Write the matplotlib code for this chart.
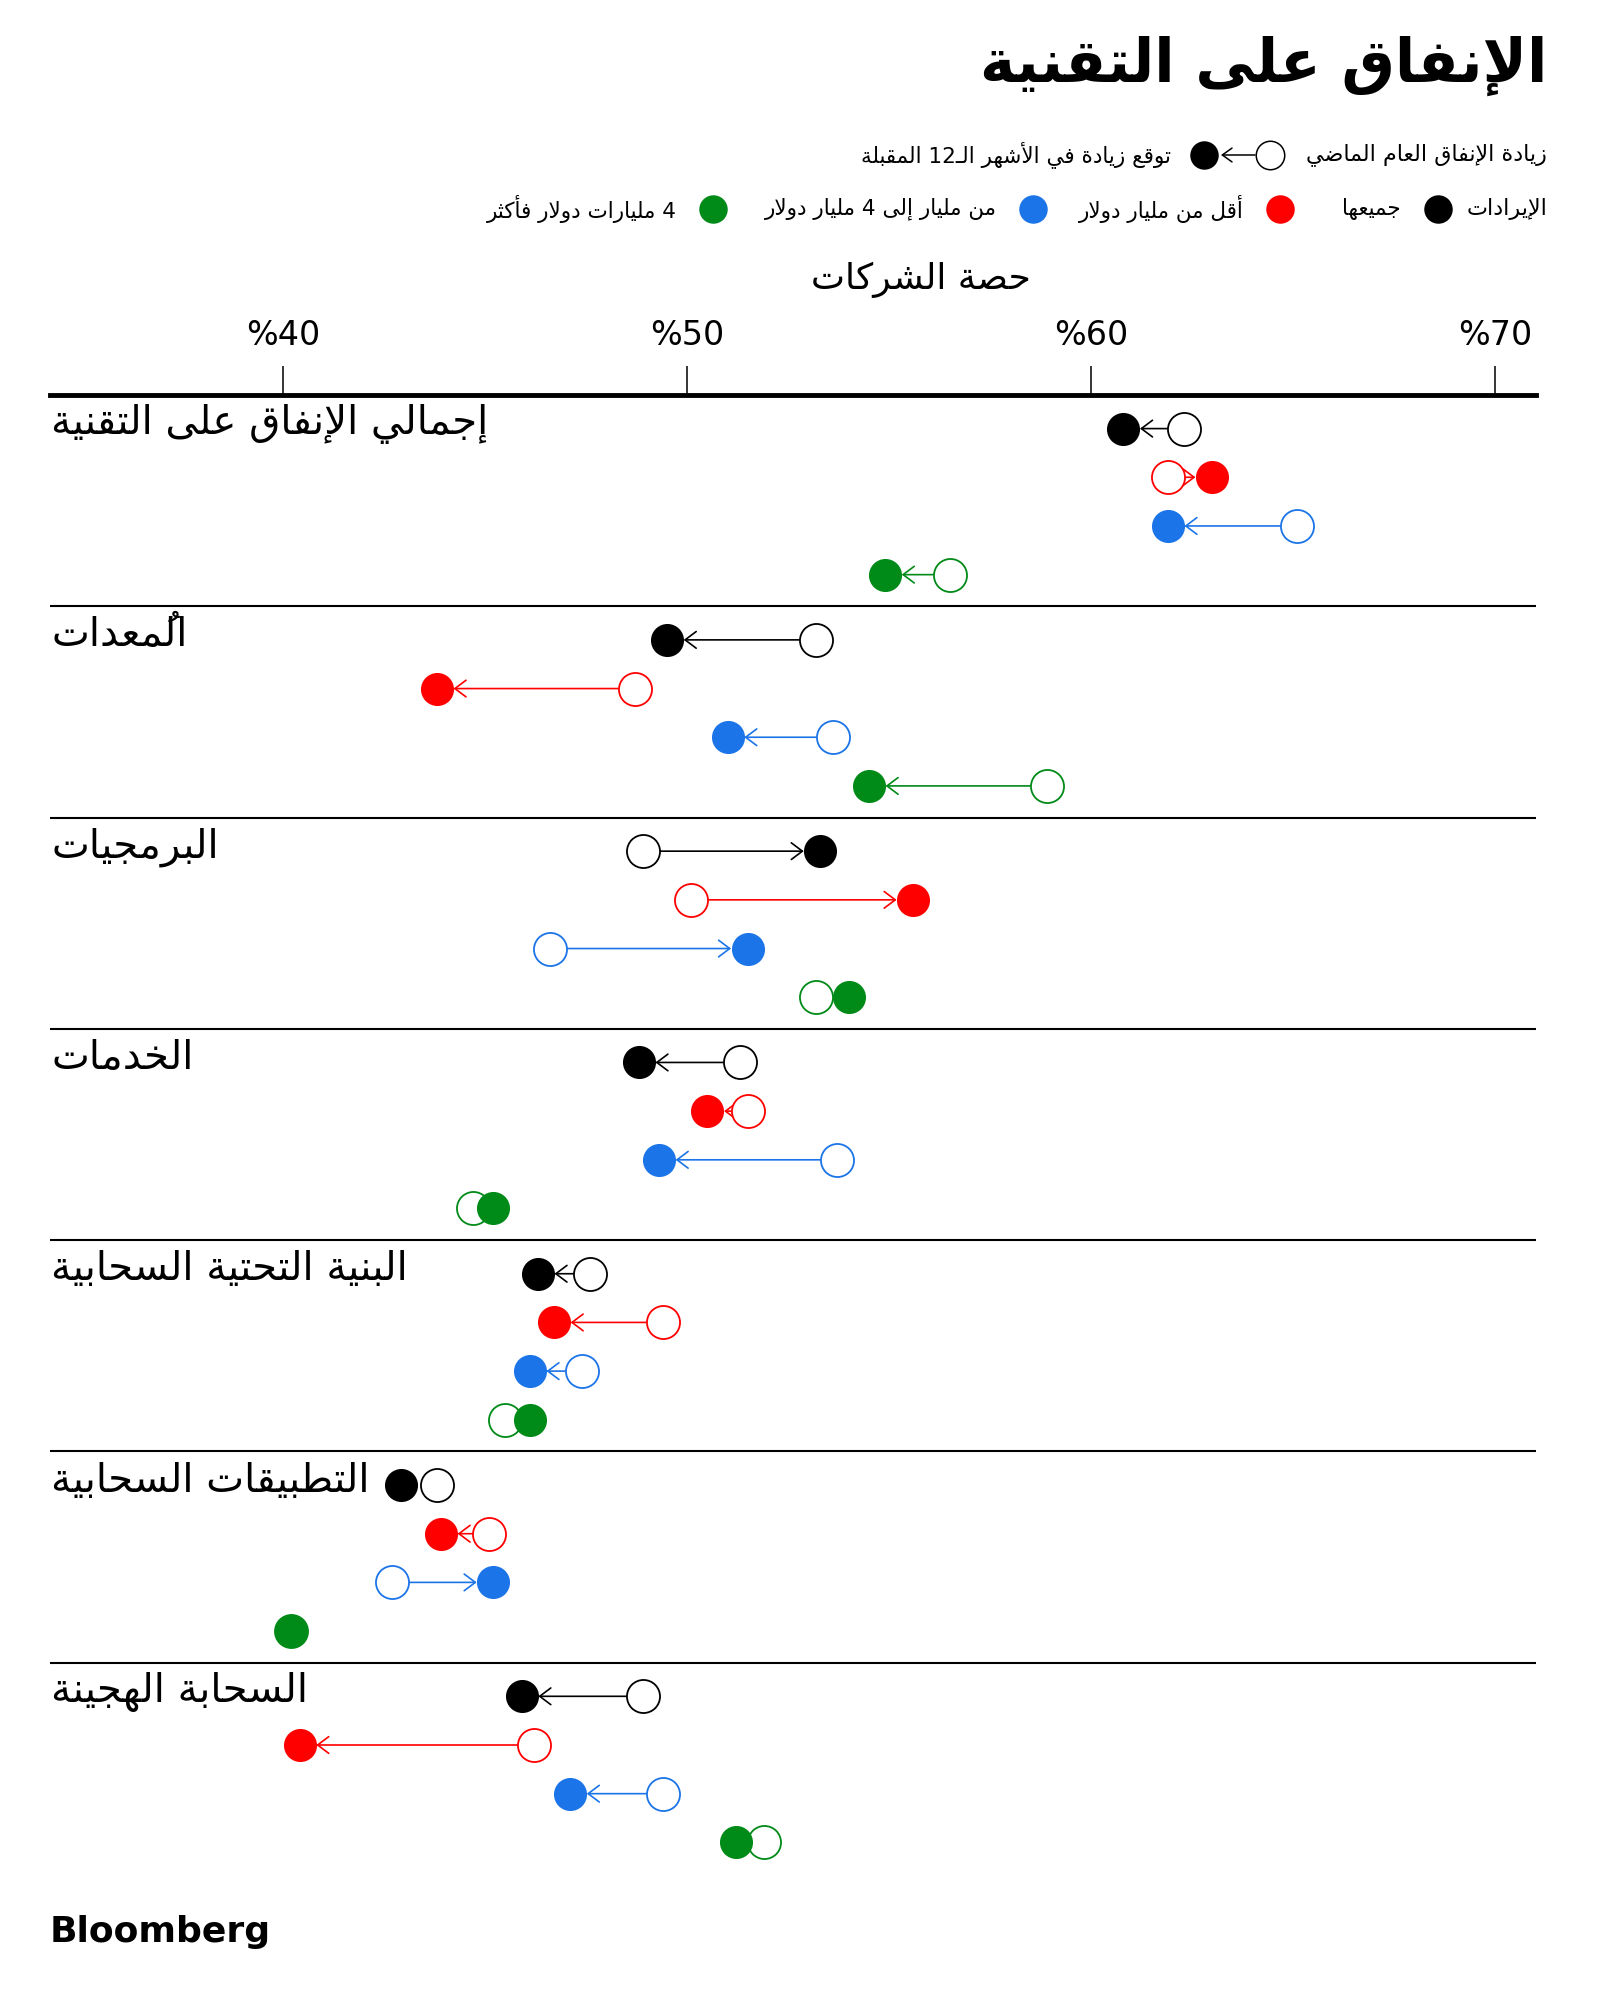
import matplotlib
matplotlib.use('Agg')
import matplotlib.pyplot as plt

# ---- data: share of companies (%) ----
groups = ['إجمالي الإنفاق على التقنية', 'المُعدات', 'البرمجيات', 'الخدمات',
          'البنية التحتية السحابية', 'التطبيقات السحابية', 'السحابة الهجينة']
series = ['جميعها', 'أقل من مليار دولار', 'من مليار إلى 4 مليار دولار',
          '4 مليارات دولار فأكثر']
colors = ['#000000', '#ff0000', '#1b74e8', '#008a17']

# increased spending last year (open circles)
past_all = [62.3, 53.2, 48.9, 51.3, 47.6, 43.8, 48.9]
past_small = [61.9, 48.7, 50.1, 51.5, 49.4, 45.1, 46.2]
past_mid = [65.1, 53.6, 46.6, 53.7, 47.4, 42.7, 49.4]
past_large = [56.5, 58.9, 53.2, 44.7, 45.5, 40.2, 51.9]
# expect increase in next 12 months (filled circles)
next_all = [60.8, 49.5, 53.3, 48.8, 46.3, 42.9, 45.9]
next_small = [63.0, 43.8, 55.6, 50.5, 46.7, 43.9, 40.4]
next_mid = [61.9, 51.0, 51.5, 49.3, 46.1, 45.2, 47.1]
next_large = [54.9, 54.5, 54.0, 45.2, 46.1, 40.2, 51.2]

ticks = [40, 50, 60, 70]
tick_labels = ['%40', '%50', '%60', '%70']

title = 'الإنفاق على التقنية'
axis_title = 'حصة الشركات'
legend_past = 'زيادة الإنفاق العام الماضي'
legend_next = 'توقع زيادة في الأشهر الـ12 المقبلة'
legend_head = 'الإيرادات'

past = [past_all, past_small, past_mid, past_large]
nxt = [next_all, next_small, next_mid, next_large]


# ---- minimal arabic shaping (matplotlib has no bidi / shaping) ----
_FORMS = {'ء': 0xFE80, 'آ': 0xFE81, 'أ': 0xFE83, 'ؤ': 0xFE85, 'إ': 0xFE87,
          'ئ': 0xFE89, 'ا': 0xFE8D, 'ب': 0xFE8F, 'ة': 0xFE93, 'ت': 0xFE95,
          'ث': 0xFE99, 'ج': 0xFE9D, 'ح': 0xFEA1, 'خ': 0xFEA5, 'د': 0xFEA9,
          'ذ': 0xFEAB, 'ر': 0xFEAD, 'ز': 0xFEAF, 'س': 0xFEB1, 'ش': 0xFEB5,
          'ص': 0xFEB9, 'ض': 0xFEBD, 'ط': 0xFEC1, 'ظ': 0xFEC5, 'ع': 0xFEC9,
          'غ': 0xFECD, 'ف': 0xFED1, 'ق': 0xFED5, 'ك': 0xFED9, 'ل': 0xFEDD,
          'م': 0xFEE1, 'ن': 0xFEE5, 'ه': 0xFEE9, 'و': 0xFEED, 'ى': 0xFEEF,
          'ي': 0xFEF1}
_DUAL = set('ئبتثجحخسشصضطظعغفقكلمنهي') | {'ـ'}
_LAMALEF = {'آ': 0xFEF5, 'أ': 0xFEF7, 'إ': 0xFEF9, 'ا': 0xFEFB}
_MARKS = set(chr(c) for c in range(0x064B, 0x0653))


def _joins_prev(c):
    return (c in _FORMS and c != 'ء') or c == 'ـ'


def ar(text):
    items = []
    for ch in text:
        if ch in _MARKS and items:
            items[-1][1] += ch
        else:
            items.append([ch, ''])
    out = []
    i = 0
    while i < len(items):
        c, m = items[i]
        prev = items[i - 1][0] if i > 0 else ''
        nx = items[i + 1][0] if i + 1 < len(items) else ''
        jp = prev in _DUAL and _joins_prev(c)
        if c == 'ل' and nx in _LAMALEF:
            out.append(chr(_LAMALEF[nx] + (1 if jp else 0)) + m + items[i + 1][1])
            i += 2
            continue
        if c in _FORMS:
            jn = c in _DUAL and _joins_prev(nx)
            if c in _DUAL:
                off = 3 if (jp and jn) else 2 if jn else 1 if jp else 0
            else:
                off = 1 if jp else 0
            out.append(chr(_FORMS[c] + off) + m)
        else:
            out.append(c + m)
        i += 1
    # visual order: reverse, but keep digit runs left-to-right
    runs = []
    for c in out:
        ltr = c.isascii() and c.isalnum()
        if runs and ltr and runs[-1][0]:
            runs[-1][1].append(c)
        else:
            runs.append([ltr, [c]])
    return ''.join(''.join(r[1]) for r in reversed(runs))


plt.rcParams['font.family'] = ['DejaVu Sans']

W, H = 1600, 2012
fig = plt.figure(figsize=(W / 100, H / 100), dpi=100)

# main chart
ax = fig.add_axes([50 / W, 1 - 1874 / H, 1486 / W, (1874 - 395) / H])
GROUP_H = 4.34
ax.set_xlim(34.22, 71.02)
ax.set_ylim(len(groups) * GROUP_H, 0)
for s in ['left', 'right', 'bottom']:
    ax.spines[s].set_visible(False)
ax.spines['top'].set_linewidth(3.5)
ax.xaxis.tick_top()
ax.set_xticks(ticks)
ax.set_xticklabels(tick_labels)
ax.tick_params(axis='x', length=21, width=1.1, pad=10, labelsize=24)
ax.set_yticks([])

MS = 23.8
for g in range(len(groups)):
    y0 = g * GROUP_H
    if g > 0:
        ax.axhline(y0, color='black', lw=1.5, zorder=1)
    ax.text(0.001, y0 + 0.6, ar(groups[g]), transform=ax.get_yaxis_transform(),
            ha='left', va='center', fontsize=29)
    for r in range(len(series)):
        y = y0 + 0.69 + r
        p, n, c = past[r][g], nxt[r][g], colors[r]
        if abs(n - p) > 0.9:
            ax.annotate('', xy=(n, y), xytext=(p, y),
                        arrowprops=dict(arrowstyle='->,head_length=0.8,head_width=0.6',
                                        mutation_scale=10, color=c, lw=1.2,
                                        shrinkA=12, shrinkB=12), zorder=2)
        ax.plot(p, y, 'o', ms=MS, mfc='white', mec=c, mew=1.3, zorder=3)
        ax.plot(n, y, 'o', ms=MS, mfc=c, mec=c, mew=0, zorder=4)

# overlay in pixel coordinates for title / legend / logo
lay = fig.add_axes([0, 0, 1, 1])
lay.set_xlim(0, W)
lay.set_ylim(H, 0)
lay.axis('off')
lay.patch.set_visible(False)

lay.text(1547, 66, ar(title), ha='right', va='center', fontsize=43, fontweight='bold')

# legend line 1
ly1 = 155
lay.text(1547, ly1, ar(legend_past), ha='right', va='center', fontsize=16)
lay.plot(1270, ly1, 'o', ms=20.5, mfc='white', mec='black', mew=1.1)
lay.annotate('', xy=(1221, ly1), xytext=(1255, ly1),
             arrowprops=dict(arrowstyle='->,head_length=0.7,head_width=0.5',
                             mutation_scale=10, color='black', lw=1.1,
                             shrinkA=0, shrinkB=0))
lay.plot(1204, ly1, 'o', ms=20.5, mfc='black', mec='black', mew=0)
lay.text(1171, ly1, ar(legend_next), ha='right', va='center', fontsize=15.5)

# legend line 2
ly2 = 209
lay.text(1547, ly2, ar(legend_head), ha='right', va='center', fontsize=16)
dot_x = [1438, 1280, 1033, 713]
txt_x = [1401, 1244, 997, 677]
for lbl, c, dx, tx in zip(series, colors, dot_x, txt_x):
    lay.plot(dx, ly2, 'o', ms=20.5, mfc=c, mec=c, mew=0)
    lay.text(tx, ly2, ar(lbl), ha='right', va='center', fontsize=15.5)

lay.text(921, 280, ar(axis_title), ha='center', va='center', fontsize=26)

lay.text(50, 1932, 'Bloomberg', ha='left', va='center', fontsize=26, fontweight='bold')

fig.savefig('out.png', dpi=100, facecolor='white')
